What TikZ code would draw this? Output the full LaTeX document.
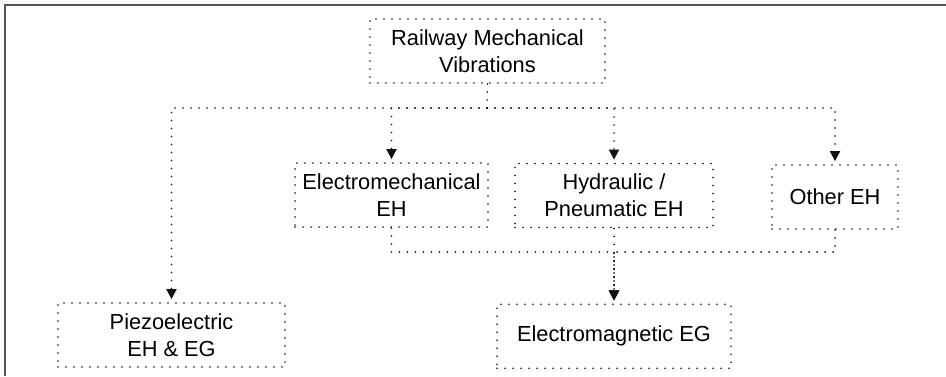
\documentclass[tikz,border=0pt]{standalone}
\usepackage{fontspec}
\setmainfont{Liberation Sans}
\usepackage{tikz}
\usetikzlibrary{positioning,arrows.meta}
\usepackage{xcolor}
\definecolor{framegray}{HTML}{555555}
\definecolor{dotink}{HTML}{111111}

\begin{document}
\begin{tikzpicture}[
      x=0.5pt, y=-0.5pt,
      every node/.style={font=\fontsize{10.9}{13.6}\selectfont, text=black},
      cat/.style={draw=dotink, line width=0.9pt, dash pattern=on 0pt off 4pt,
        line cap=round, align=center, minimum height=32pt, inner sep=0pt},
      link/.style={draw=dotink, line width=0.9pt, dash pattern=on 0pt off 4pt, line cap=round},
      arr/.style={link, -{Triangle[length=5pt,width=5pt]}, shorten >=1.5pt}
    ]
      \useasboundingbox (0,0) rectangle (946,376);
      \draw[framegray, line width=0.8pt] (5,376) -- (5,5) -- (946,5);

      \node[cat, minimum width=117.5pt] (root) at (487.5,51) {Railway Mechanical\\Vibrations};
      \node[cat, minimum width=96.5pt] (mech) at (391.5,195) {Electromechanical\\EH};
      \node[cat, minimum width=99pt] (hydro) at (614,195.5) {Hydraulic /\\Pneumatic EH};
      \node[cat, minimum width=63pt] (other) at (835,197) {Other EH};
      \node[cat, minimum width=113.5pt] (piezo) at (171.5,335) {Piezoelectric\\EH \& EG};
      \node[cat, minimum width=117pt, below=37.5pt of hydro] (emag) {Electromagnetic EG};

      % root to the four families
      \draw[link] (root.south) -- (487,108) coordinate (topbus);
      \foreach \c in {piezo,mech,hydro,other}
        \draw[arr] (topbus) -| (\c.north);

      % families into electromagnetic EG
      \coordinate (lowbus) at (614,252);
      \foreach \c in {mech,hydro,other}
        \draw[arr] (\c.south) |- (lowbus) -- (emag.north);
    \end{tikzpicture}
\end{document}
